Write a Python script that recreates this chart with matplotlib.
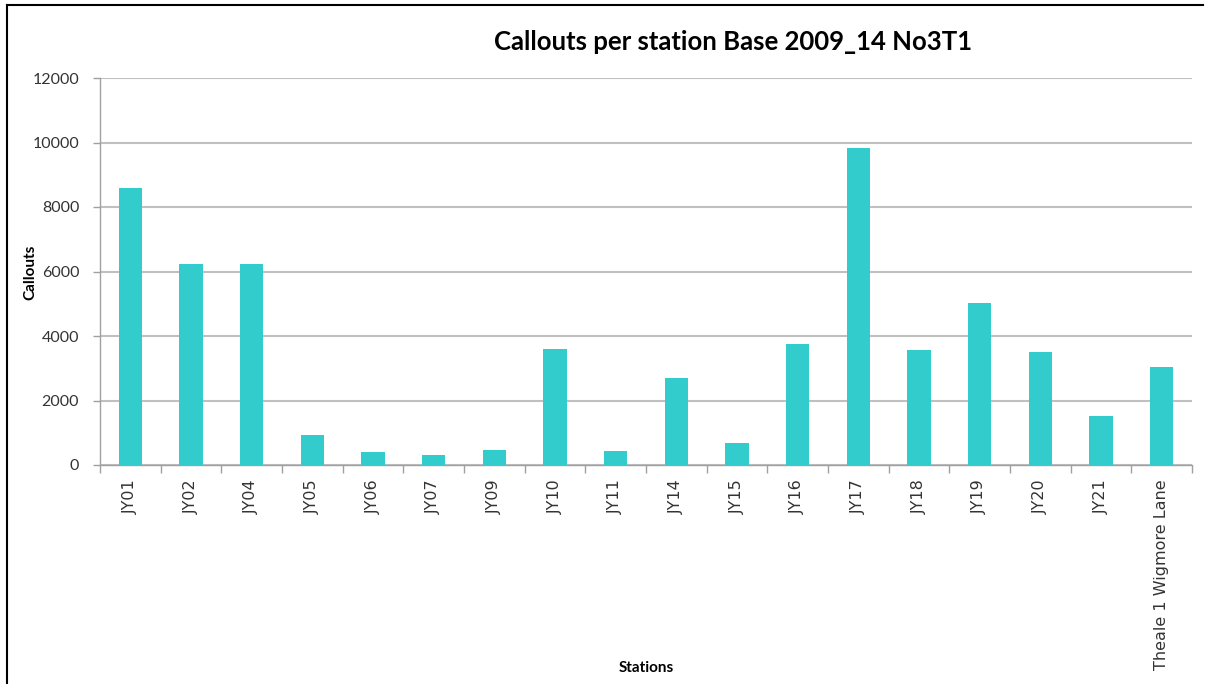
import matplotlib
matplotlib.use("Agg")
import matplotlib.pyplot as plt
from matplotlib.lines import Line2D
import numpy as np

plt.rcParams["font.family"] = ["DejaVu Sans"]

stations = ["JY01", "JY02", "JY04", "JY05", "JY06", "JY07", "JY09", "JY10", "JY11",
            "JY14", "JY15", "JY16", "JY17", "JY18", "JY19", "JY20", "JY21",
            "Theale 1 Wigmore Lane"]
callouts = [8580, 6220, 6220, 920, 390, 300, 475, 3600, 440,
            2690, 680, 3740, 9830, 3575, 5020, 3515, 1510, 3050]
yticks = [0, 2000, 4000, 6000, 8000, 10000, 12000]

W, H = 1205, 684
fig = plt.figure(figsize=(W / 100, H / 100), dpi=100)
ax = fig.add_axes([100 / W, 1 - 465 / H, (1192 - 100) / W, (465 - 78) / H])

x = np.arange(len(stations))
ax.bar(x, callouts, width=0.39, color="#33CCCC", zorder=3)

ax.set_xlim(-0.5, len(stations) - 0.5)
ax.set_ylim(0, 12000)
ax.set_yticks(yticks)
ax.set_yticklabels([str(v) for v in yticks])
for t in ax.get_yticklabels():
    t.set_fontfamily("Lato")
    t.set_fontsize(11.5)
    t.set_color("#333333")
ax.grid(axis="y", color="#c0c0c0", linewidth=1.5, zorder=0)

ax.set_xticks(x)
ax.set_xticklabels(stations, rotation=90)
for t in ax.get_xticklabels():
    t.set_fontfamily("DejaVu Sans")
    t.set_fontsize(11.5)
    t.set_color("#333333")
ax.tick_params(axis="x", which="major", length=0, pad=10)
ax.set_xticks(np.arange(-0.5, len(stations)), minor=True)
ax.tick_params(axis="x", which="minor", length=6, color="#a0a0a0", width=1)
ax.tick_params(axis="y", length=5, color="#a0a0a0", width=1, pad=10)

for s in ["top", "right"]:
    ax.spines[s].set_visible(False)
for s in ["left", "bottom"]:
    ax.spines[s].set_color("#a0a0a0")
    ax.spines[s].set_linewidth(1)

fig.text(0.5 * (497 + 970) / W, 1 - 42 / H, "Callouts per station Base 2009_14 No3T1",
         ha="center", va="center", fontfamily="Lato", fontweight="bold", fontsize=18.5)
fig.text(30 / W, 1 - 272 / H, "Callouts", rotation=90, ha="center", va="center",
         fontfamily="Lato", fontweight="bold", fontsize=11)
fig.text(646 / W, 1 - 668 / H, "Stations", ha="center", va="center",
         fontfamily="Lato", fontweight="bold", fontsize=11)

# outer frame (top and left edges visible)
fig.add_artist(Line2D([7 / W, 7 / W], [0, 1 - 5 / H], transform=fig.transFigure,
                      color="black", linewidth=1.5))
fig.add_artist(Line2D([7 / W, 1203 / W], [1 - 5 / H, 1 - 5 / H], transform=fig.transFigure,
                      color="black", linewidth=1.5))

fig.savefig("out.png", dpi=100)
